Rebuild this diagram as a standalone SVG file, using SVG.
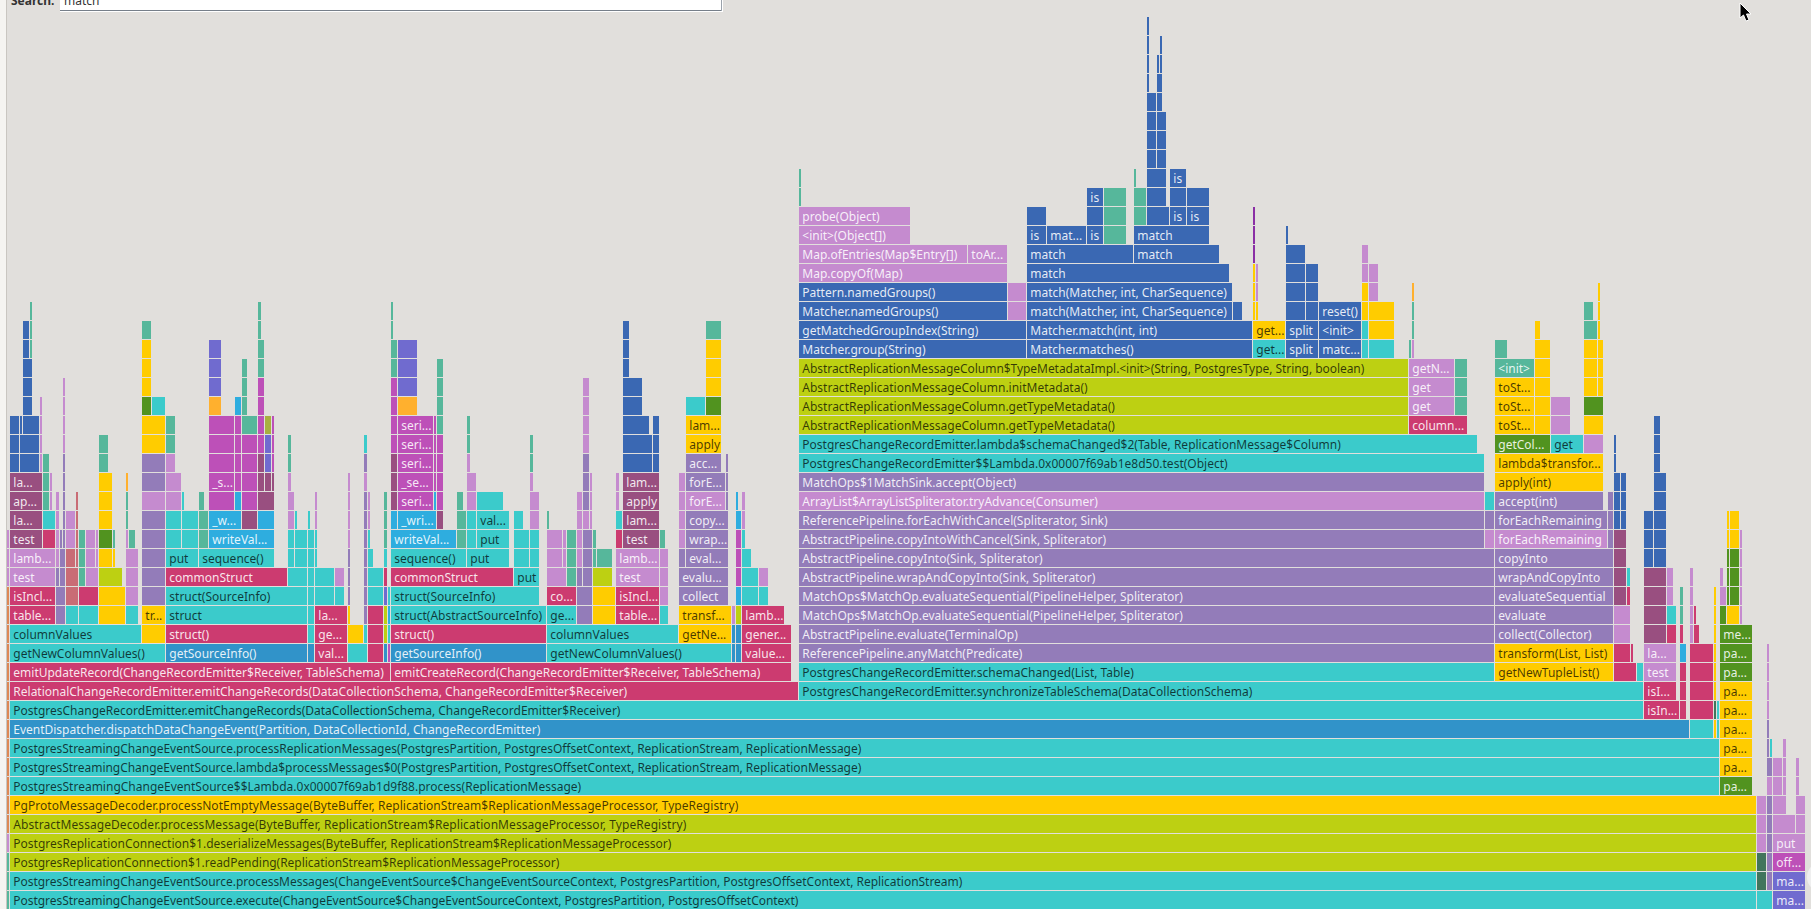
<svg xmlns="http://www.w3.org/2000/svg" width="1811" height="909" viewBox="0 0 1811 909">
<style>
.t{fill:#3bcbcb}.c{fill:#cc3b70}.b{fill:#3a68b3}.p{fill:#937cb9}.l{fill:#c58bcf}.y{fill:#ffcc00}.o{fill:#bdd012}.g{fill:#56b79b}.d{fill:#51931f}.v{fill:#bd50b8}.m{fill:#994f80}.s{fill:#2eaddf}.u{fill:#3193c9}.i{fill:#706bcf}.a{fill:#ffb02e}.r{fill:#c96c75}.q{fill:#8a2fa5}.w{fill:#a8b040}.k{fill:#41755c}.n{fill:#dd8855}
text{font-family:"Noto Sans","DejaVu Sans",sans-serif;font-size:12px}
.W{fill:#fff;fill-opacity:.88}.D{fill:#000;fill-opacity:.72}
</style>
<rect width="1811" height="909" fill="#e1dfdc"/>
<rect width="6" height="909" fill="#f5f4f1"/>
<rect x="6" width="1" height="909" fill="#c9c6c1"/>
<g id="search">
<rect x="60" y="-6" width="663" height="18" fill="#fff"/>
<rect x="60" y="10" width="662" height="1" fill="#767f8a"/>
<rect x="721" y="-6" width="1" height="17" fill="#9aa2ab"/>
<text x="11" y="5" font-weight="bold" fill="#333">Search:</text>
<text x="64" y="5" fill="#333">match</text>
</g>
<g id="r0" transform="translate(0,891)"><rect x="7" width="2" height="18" class="g"/><rect x="10" width="1746" height="18" class="t"/><text x="13.3" y="13.5" class="D" textLength="785">PostgresStreamingChangeEventSource.execute(ChangeEventSource$ChangeEventSourceContext, PostgresPartition, PostgresOffsetContext)</text><rect x="1757" width="15" height="18" class="t"/><rect x="1773" width="32" height="18" class="i"/><text x="1776.3" y="13.5" class="W">ma...</text></g>
<g id="r1" transform="translate(0,872)"><rect x="7" width="2" height="18" class="g"/><rect x="10" width="1746" height="18" class="t"/><text x="13.3" y="13.5" class="D" textLength="949">PostgresStreamingChangeEventSource.processMessages(ChangeEventSource$ChangeEventSourceContext, PostgresPartition, PostgresOffsetContext, ReplicationStream)</text><rect x="1757" width="9" height="18" class="k"/><rect x="1767" width="5" height="18" class="p"/><rect x="1773" width="32" height="18" class="i"/><text x="1776.3" y="13.5" class="W">ma...</text></g>
<g id="r2" transform="translate(0,853)"><rect x="7" width="2" height="18" class="g"/><rect x="10" width="1746" height="18" class="o"/><text x="13.3" y="13.5" class="D" textLength="546">PostgresReplicationConnection$1.readPending(ReplicationStream$ReplicationMessageProcessor)</text><rect x="1757" width="9" height="18" class="k"/><rect x="1767" width="5" height="18" class="p"/><rect x="1773" width="32" height="18" class="v"/><text x="1776.3" y="13.5" class="W">off...</text></g>
<g id="r3" transform="translate(0,834)"><rect x="7" width="2" height="18" class="l"/><rect x="10" width="1746" height="18" class="o"/><text x="13.3" y="13.5" class="D">PostgresReplicationConnection$1.deserializeMessages(ByteBuffer, ReplicationStream$ReplicationMessageProcessor)</text><rect x="1757" width="9" height="18" class="l"/><rect x="1767" width="5" height="18" class="p"/><rect x="1773" width="32" height="18" class="l"/><text x="1776.3" y="13.5" class="W">put</text></g>
<g id="r4" transform="translate(0,815)"><rect x="7" width="2" height="18" class="n"/><rect x="10" width="1746" height="18" class="o"/><text x="13.3" y="13.5" class="D" textLength="673">AbstractMessageDecoder.processMessage(ByteBuffer, ReplicationStream$ReplicationMessageProcessor, TypeRegistry)</text><rect x="1757" width="9" height="18" class="l"/><rect x="1767" width="5" height="18" class="p"/><rect x="1773" width="22" height="18" class="l"/><rect x="1796" width="9" height="18" class="l"/></g>
<g id="r5" transform="translate(0,796)"><rect x="7" width="2" height="18" class="n"/><rect x="10" width="1746" height="18" class="y"/><text x="13.3" y="13.5" class="D" textLength="725">PgProtoMessageDecoder.processNotEmptyMessage(ByteBuffer, ReplicationStream$ReplicationMessageProcessor, TypeRegistry)</text><rect x="1757" width="9" height="18" class="l"/><rect x="1767" width="5" height="18" class="p"/><rect x="1773" width="13" height="18" class="l"/><rect x="1796" width="9" height="18" class="l"/></g>
<g id="r6" transform="translate(0,777)"><rect x="7" width="2" height="18" class="n"/><rect x="10" width="1709" height="18" class="t"/><text x="13.3" y="13.5" class="D">PostgresStreamingChangeEventSource$$Lambda.0x00007f69ab1d9f88.process(ReplicationMessage)</text><rect x="1720" width="32" height="18" class="d"/><text x="1723.3" y="13.5" class="W">pa...</text><rect x="1767" width="5" height="18" class="l"/><rect x="1773" width="9" height="18" class="l"/><rect x="1783" width="3" height="18" class="l"/><rect x="1796" width="3" height="18" class="l"/></g>
<g id="r7" transform="translate(0,758)"><rect x="7" width="2" height="18" class="n"/><rect x="10" width="1709" height="18" class="t"/><text x="13.3" y="13.5" class="D" textLength="848">PostgresStreamingChangeEventSource.lambda$processMessages$0(PostgresPartition, PostgresOffsetContext, ReplicationStream, ReplicationMessage)</text><rect x="1720" width="32" height="18" class="y"/><text x="1723.3" y="13.5" class="D">pa...</text><rect x="1767" width="5" height="18" class="p"/><rect x="1773" width="9" height="18" class="l"/><rect x="1783" width="3" height="18" class="l"/><rect x="1796" width="3" height="18" class="l"/></g>
<g id="r8" transform="translate(0,739)"><rect x="7" width="2" height="18" class="n"/><rect x="10" width="1709" height="18" class="t"/><text x="13.3" y="13.5" class="D" textLength="848">PostgresStreamingChangeEventSource.processReplicationMessages(PostgresPartition, PostgresOffsetContext, ReplicationStream, ReplicationMessage)</text><rect x="1720" width="32" height="18" class="y"/><text x="1723.3" y="13.5" class="D">pa...</text><rect x="1767" width="2" height="18" class="p"/><rect x="1770" width="2" height="18" class="t"/><rect x="1783" width="3" height="18" class="l"/></g>
<g id="r9" transform="translate(0,720)"><rect x="7" width="2" height="18" class="n"/><rect x="10" width="1679" height="18" class="u"/><text x="13.3" y="13.5" class="W" textLength="527">EventDispatcher.dispatchDataChangeEvent(Partition, DataCollectionId, ChangeRecordEmitter)</text><rect x="1690" width="23" height="18" class="t"/><rect x="1714" width="2" height="18" class="y"/><rect x="1717" width="2" height="18" class="t"/><rect x="1720" width="32" height="18" class="y"/><text x="1723.3" y="13.5" class="D">pa...</text><rect x="1767" width="2" height="18" class="p"/></g>
<g id="r10" transform="translate(0,701)"><rect x="7" width="2" height="18" class="n"/><rect x="10" width="1633" height="18" class="t"/><text x="13.3" y="13.5" class="D">PostgresChangeRecordEmitter.emitChangeRecords(DataCollectionSchema, ChangeRecordEmitter$Receiver)</text><rect x="1644" width="35" height="18" class="c"/><text x="1647.3" y="13.5" class="W">isIn...</text><rect x="1680" width="6" height="18" class="c"/><rect x="1690" width="23" height="18" class="c"/><rect x="1714" width="2" height="18" class="k"/><rect x="1717" width="2" height="18" class="t"/><rect x="1720" width="32" height="18" class="y"/><text x="1723.3" y="13.5" class="D">pa...</text><rect x="1767" width="2" height="18" class="l"/></g>
<g id="r11" transform="translate(0,682)"><rect x="7" width="2" height="18" class="n"/><rect x="10" width="788" height="18" class="c"/><text x="13.3" y="13.5" class="W">RelationalChangeRecordEmitter.emitChangeRecords(DataCollectionSchema, ChangeRecordEmitter$Receiver)</text><rect x="799" width="844" height="18" class="t"/><text x="802.3" y="13.5" class="D">PostgresChangeRecordEmitter.synchronizeTableSchema(DataCollectionSchema)</text><rect x="1644" width="32" height="18" class="c"/><text x="1647.3" y="13.5" class="W">isI...</text><rect x="1680" width="6" height="18" class="c"/><rect x="1690" width="23" height="18" class="c"/><rect x="1714" width="2" height="18" class="y"/><rect x="1720" width="32" height="18" class="y"/><text x="1723.3" y="13.5" class="D">pa...</text><rect x="1767" width="2" height="18" class="l"/></g>
<g id="r12" transform="translate(0,663)"><rect x="7" width="2" height="18" class="n"/><rect x="10" width="380" height="18" class="c"/><text x="13.3" y="13.5" class="W">emitUpdateRecord(ChangeRecordEmitter$Receiver, TableSchema)</text><rect x="391" width="400" height="18" class="c"/><text x="394.3" y="13.5" class="W">emitCreateRecord(ChangeRecordEmitter$Receiver, TableSchema)</text><rect x="799" width="695" height="18" class="t"/><text x="802.3" y="13.5" class="D">PostgresChangeRecordEmitter.schemaChanged(List, Table)</text><rect x="1495" width="118" height="18" class="y"/><text x="1498.3" y="13.5" class="D">getNewTupleList()</text><rect x="1614" width="22" height="18" class="c"/><rect x="1637" width="6" height="18" class="t"/><rect x="1644" width="32" height="18" class="l"/><text x="1647.3" y="13.5" class="W">test</text><rect x="1680" width="6" height="18" class="c"/><rect x="1690" width="23" height="18" class="c"/><rect x="1714" width="2" height="18" class="y"/><rect x="1720" width="32" height="18" class="d"/><text x="1723.3" y="13.5" class="W">pa...</text><rect x="1767" width="2" height="18" class="l"/></g>
<g id="r13" transform="translate(0,644)"><rect x="7" width="2" height="18" class="n"/><rect x="10" width="155" height="18" class="t"/><text x="13.3" y="13.5" class="D">getNewColumnValues()</text><rect x="166" width="141" height="18" class="u"/><text x="169.3" y="13.5" class="W">getSourceInfo()</text><rect x="308" width="6" height="18" class="u"/><rect x="315" width="32" height="18" class="c"/><text x="318.3" y="13.5" class="W">val...</text><rect x="348" width="19" height="18" class="t"/><rect x="368" width="15" height="18" class="c"/><rect x="384" width="3" height="18" class="u"/><rect x="388" width="2" height="18" class="v"/><rect x="391" width="155" height="18" class="u"/><text x="394.3" y="13.5" class="W">getSourceInfo()</text><rect x="547" width="184" height="18" class="t"/><text x="550.3" y="13.5" class="D">getNewColumnValues()</text><rect x="732" width="3" height="18" class="u"/><rect x="736" width="5" height="18" class="u"/><rect x="742" width="49" height="18" class="c"/><text x="745.3" y="13.5" class="W">value...</text><rect x="799" width="695" height="18" class="p"/><text x="802.3" y="13.5" class="W">ReferencePipeline.anyMatch(Predicate)</text><rect x="1495" width="118" height="18" class="y"/><text x="1498.3" y="13.5" class="D">transform(List, List)</text><rect x="1614" width="16" height="18" class="c"/><rect x="1631" width="2" height="18" class="c"/><rect x="1644" width="32" height="18" class="l"/><text x="1647.3" y="13.5" class="W">la...</text><rect x="1680" width="6" height="18" class="s"/><rect x="1690" width="23" height="18" class="c"/><rect x="1714" width="2" height="18" class="y"/><rect x="1720" width="32" height="18" class="d"/><text x="1723.3" y="13.5" class="W">pa...</text><rect x="1767" width="2" height="18" class="l"/></g>
<g id="r14" transform="translate(0,625)"><rect x="7" width="2" height="18" class="n"/><rect x="10" width="131" height="18" class="t"/><text x="13.3" y="13.5" class="D">columnValues</text><rect x="142" width="23" height="18" class="y"/><rect x="166" width="141" height="18" class="c"/><text x="169.3" y="13.5" class="W">struct()</text><rect x="308" width="6" height="18" class="t"/><rect x="315" width="32" height="18" class="c"/><text x="318.3" y="13.5" class="W">ge...</text><rect x="348" width="15" height="18" class="y"/><rect x="364" width="3" height="18" class="t"/><rect x="368" width="15" height="18" class="c"/><rect x="384" width="3" height="18" class="o"/><rect x="388" width="2" height="18" class="t"/><rect x="391" width="155" height="18" class="c"/><text x="394.3" y="13.5" class="W">struct()</text><rect x="547" width="131" height="18" class="t"/><text x="550.3" y="13.5" class="D">columnValues</text><rect x="679" width="52" height="18" class="y"/><text x="682.3" y="13.5" class="D">getNe...</text><rect x="732" width="3" height="18" class="u"/><rect x="736" width="5" height="18" class="u"/><rect x="742" width="49" height="18" class="c"/><text x="745.3" y="13.5" class="W">gener...</text><rect x="799" width="695" height="18" class="p"/><text x="802.3" y="13.5" class="W">AbstractPipeline.evaluate(TerminalOp)</text><rect x="1495" width="118" height="18" class="p"/><text x="1498.3" y="13.5" class="W">collect(Collector)</text><rect x="1614" width="16" height="18" class="l"/><rect x="1644" width="22" height="18" class="m"/><rect x="1667" width="9" height="18" class="c"/><rect x="1680" width="3" height="18" class="c"/><rect x="1690" width="3" height="18" class="l"/><rect x="1694" width="5" height="18" class="c"/><rect x="1714" width="2" height="18" class="y"/><rect x="1720" width="32" height="18" class="d"/><text x="1723.3" y="13.5" class="W">me...</text></g>
<g id="r15" transform="translate(0,606)"><rect x="7" width="2" height="18" class="n"/><rect x="10" width="45" height="18" class="c"/><text x="13.3" y="13.5" class="W">table...</text><rect x="56" width="9" height="18" class="p"/><rect x="66" width="12" height="18" class="t"/><rect x="79" width="19" height="18" class="t"/><rect x="99" width="26" height="18" class="y"/><rect x="126" width="12" height="18" class="t"/><rect x="142" width="23" height="18" class="y"/><text x="145.3" y="13.5" class="D">tr...</text><rect x="166" width="141" height="18" class="t"/><text x="169.3" y="13.5" class="D">struct</text><rect x="308" width="6" height="18" class="t"/><rect x="315" width="32" height="18" class="c"/><text x="318.3" y="13.5" class="W">la...</text><rect x="348" width="2" height="18" class="y"/><rect x="364" width="3" height="18" class="p"/><rect x="368" width="15" height="18" class="c"/><rect x="384" width="3" height="18" class="o"/><rect x="388" width="2" height="18" class="s"/><rect x="391" width="155" height="18" class="t"/><text x="394.3" y="13.5" class="D">struct(AbstractSourceInfo)</text><rect x="547" width="29" height="18" class="t"/><text x="550.3" y="13.5" class="D">ge...</text><rect x="577" width="15" height="18" class="p"/><rect x="593" width="22" height="18" class="y"/><rect x="616" width="43" height="18" class="c"/><text x="619.3" y="13.5" class="W">table...</text><rect x="660" width="8" height="18" class="t"/><rect x="679" width="52" height="18" class="y"/><text x="682.3" y="13.5" class="D">transf...</text><rect x="732" width="3" height="18" class="l"/><rect x="736" width="5" height="18" class="o"/><rect x="742" width="42" height="18" class="c"/><text x="745.3" y="13.5" class="W">lamb...</text><rect x="799" width="695" height="18" class="p"/><text x="802.3" y="13.5" class="W">MatchOps$MatchOp.evaluateSequential(PipelineHelper, Spliterator)</text><rect x="1495" width="118" height="18" class="p"/><text x="1498.3" y="13.5" class="W">evaluate</text><rect x="1614" width="16" height="18" class="l"/><rect x="1644" width="22" height="18" class="m"/><rect x="1667" width="9" height="18" class="t"/><rect x="1680" width="3" height="18" class="g"/><rect x="1690" width="3" height="18" class="l"/><rect x="1694" width="2" height="18" class="c"/><rect x="1714" width="2" height="18" class="y"/><rect x="1720" width="6" height="18" class="d"/><rect x="1727" width="12" height="18" class="y"/><rect x="1740" width="2" height="18" class="l"/></g>
<g id="r16" transform="translate(0,587)"><rect x="7" width="2" height="18" class="n"/><rect x="10" width="45" height="18" class="c"/><text x="13.3" y="13.5" class="W">isIncl...</text><rect x="56" width="9" height="18" class="p"/><rect x="66" width="12" height="18" class="r"/><rect x="79" width="19" height="18" class="c"/><rect x="99" width="26" height="18" class="y"/><rect x="126" width="12" height="18" class="l"/><rect x="142" width="23" height="18" class="p"/><rect x="166" width="141" height="18" class="t"/><text x="169.3" y="13.5" class="D">struct(SourceInfo)</text><rect x="308" width="6" height="18" class="t"/><rect x="315" width="19" height="18" class="t"/><rect x="335" width="9" height="18" class="t"/><rect x="348" width="2" height="18" class="p"/><rect x="364" width="3" height="18" class="p"/><rect x="368" width="15" height="18" class="t"/><rect x="384" width="3" height="18" class="i"/><rect x="388" width="2" height="18" class="t"/><rect x="391" width="148" height="18" class="t"/><text x="394.3" y="13.5" class="D">struct(SourceInfo)</text><rect x="547" width="29" height="18" class="c"/><text x="550.3" y="13.5" class="W">co...</text><rect x="577" width="15" height="18" class="p"/><rect x="593" width="22" height="18" class="y"/><rect x="616" width="43" height="18" class="c"/><text x="619.3" y="13.5" class="W">isIncl...</text><rect x="660" width="8" height="18" class="l"/><rect x="679" width="49" height="18" class="p"/><text x="682.3" y="13.5" class="W">collect</text><rect x="736" width="5" height="18" class="s"/><rect x="742" width="16" height="18" class="t"/><rect x="759" width="9" height="18" class="t"/><rect x="799" width="695" height="18" class="p"/><text x="802.3" y="13.5" class="W">MatchOps$MatchOp.evaluateSequential(PipelineHelper, Spliterator)</text><rect x="1495" width="118" height="18" class="p"/><text x="1498.3" y="13.5" class="W">evaluateSequential</text><rect x="1614" width="12" height="18" class="m"/><rect x="1627" width="3" height="18" class="c"/><rect x="1644" width="22" height="18" class="m"/><rect x="1667" width="6" height="18" class="l"/><rect x="1680" width="3" height="18" class="g"/><rect x="1690" width="3" height="18" class="l"/><rect x="1714" width="2" height="18" class="y"/><rect x="1720" width="6" height="18" class="l"/><rect x="1727" width="2" height="18" class="d"/><rect x="1730" width="9" height="18" class="d"/><rect x="1740" width="2" height="18" class="l"/></g>
<g id="r17" transform="translate(0,568)"><rect x="7" width="2" height="18" class="l"/><rect x="10" width="45" height="18" class="l"/><text x="13.3" y="13.5" class="W">test</text><rect x="56" width="3" height="18" class="p"/><rect x="60" width="5" height="18" class="p"/><rect x="66" width="12" height="18" class="r"/><rect x="79" width="6" height="18" class="g"/><rect x="86" width="12" height="18" class="l"/><rect x="99" width="23" height="18" class="o"/><rect x="126" width="12" height="18" class="l"/><rect x="142" width="23" height="18" class="p"/><rect x="166" width="121" height="18" class="c"/><text x="169.3" y="13.5" class="W">commonStruct</text><rect x="288" width="19" height="18" class="t"/><rect x="308" width="6" height="18" class="t"/><rect x="315" width="19" height="18" class="t"/><rect x="335" width="9" height="18" class="l"/><rect x="348" width="2" height="18" class="p"/><rect x="364" width="3" height="18" class="p"/><rect x="368" width="15" height="18" class="t"/><rect x="384" width="3" height="18" class="c"/><rect x="391" width="122" height="18" class="c"/><text x="394.3" y="13.5" class="W">commonStruct</text><rect x="514" width="25" height="18" class="t"/><text x="517.3" y="13.5" class="D">put</text><rect x="547" width="19" height="18" class="l"/><rect x="567" width="9" height="18" class="g"/><rect x="577" width="5" height="18" class="p"/><rect x="583" width="9" height="18" class="p"/><rect x="593" width="19" height="18" class="o"/><rect x="616" width="43" height="18" class="l"/><text x="619.3" y="13.5" class="W">test</text><rect x="660" width="8" height="18" class="l"/><rect x="679" width="49" height="18" class="p"/><text x="682.3" y="13.5" class="W">evalu...</text><rect x="736" width="5" height="18" class="v"/><rect x="742" width="16" height="18" class="t"/><rect x="759" width="9" height="18" class="l"/><rect x="799" width="695" height="18" class="p"/><text x="802.3" y="13.5" class="W">AbstractPipeline.wrapAndCopyInto(Sink, Spliterator)</text><rect x="1495" width="118" height="18" class="p"/><text x="1498.3" y="13.5" class="W">wrapAndCopyInto</text><rect x="1614" width="12" height="18" class="m"/><rect x="1627" width="3" height="18" class="t"/><rect x="1644" width="22" height="18" class="m"/><rect x="1667" width="6" height="18" class="l"/><rect x="1690" width="3" height="18" class="l"/><rect x="1720" width="3" height="18" class="l"/><rect x="1727" width="2" height="18" class="d"/><rect x="1730" width="9" height="18" class="d"/><rect x="1740" width="2" height="18" class="l"/></g>
<g id="r18" transform="translate(0,549)"><rect x="7" width="2" height="18" class="l"/><rect x="10" width="45" height="18" class="l"/><text x="13.3" y="13.5" class="W">lamb...</text><rect x="56" width="3" height="18" class="l"/><rect x="60" width="5" height="18" class="p"/><rect x="66" width="9" height="18" class="r"/><rect x="76" width="2" height="18" class="r"/><rect x="79" width="6" height="18" class="g"/><rect x="86" width="9" height="18" class="l"/><rect x="96" width="2" height="18" class="l"/><rect x="99" width="13" height="18" class="y"/><rect x="113" width="2" height="18" class="y"/><rect x="126" width="12" height="18" class="l"/><rect x="142" width="23" height="18" class="p"/><rect x="166" width="32" height="18" class="t"/><text x="169.3" y="13.5" class="D">put</text><rect x="199" width="75" height="18" class="t"/><text x="202.3" y="13.5" class="D">sequence()</text><rect x="288" width="6" height="18" class="t"/><rect x="295" width="12" height="18" class="t"/><rect x="308" width="6" height="18" class="t"/><rect x="315" width="2" height="18" class="t"/><rect x="348" width="2" height="18" class="p"/><rect x="364" width="3" height="18" class="p"/><rect x="368" width="5" height="18" class="t"/><rect x="384" width="3" height="18" class="t"/><rect x="391" width="75" height="18" class="t"/><text x="394.3" y="13.5" class="D">sequence()</text><rect x="467" width="42" height="18" class="t"/><text x="470.3" y="13.5" class="D">put</text><rect x="514" width="15" height="18" class="t"/><rect x="530" width="9" height="18" class="t"/><rect x="547" width="15" height="18" class="l"/><rect x="563" width="3" height="18" class="l"/><rect x="567" width="9" height="18" class="g"/><rect x="577" width="5" height="18" class="l"/><rect x="583" width="9" height="18" class="p"/><rect x="593" width="3" height="18" class="g"/><rect x="597" width="15" height="18" class="g"/><rect x="616" width="43" height="18" class="l"/><text x="619.3" y="13.5" class="W">lamb...</text><rect x="660" width="8" height="18" class="l"/><rect x="679" width="6" height="18" class="p"/><rect x="686" width="42" height="18" class="p"/><text x="689.3" y="13.5" class="W">eval...</text><rect x="736" width="5" height="18" class="v"/><rect x="742" width="9" height="18" class="t"/><rect x="799" width="695" height="18" class="p"/><text x="802.3" y="13.5" class="W">AbstractPipeline.copyInto(Sink, Spliterator)</text><rect x="1495" width="118" height="18" class="p"/><text x="1498.3" y="13.5" class="W">copyInto</text><rect x="1614" width="12" height="18" class="m"/><rect x="1644" width="9" height="18" class="b"/><rect x="1654" width="12" height="18" class="b"/><rect x="1727" width="2" height="18" class="d"/><rect x="1730" width="9" height="18" class="d"/><rect x="1740" width="2" height="18" class="l"/></g>
<g id="r19" transform="translate(0,530)"><rect x="7" width="2" height="18" class="l"/><rect x="10" width="32" height="18" class="m"/><text x="13.3" y="13.5" class="W">test</text><rect x="43" width="12" height="18" class="c"/><rect x="56" width="3" height="18" class="l"/><rect x="60" width="2" height="18" class="p"/><rect x="63" width="2" height="18" class="p"/><rect x="66" width="9" height="18" class="l"/><rect x="76" width="2" height="18" class="r"/><rect x="79" width="6" height="18" class="g"/><rect x="86" width="9" height="18" class="l"/><rect x="96" width="2" height="18" class="l"/><rect x="99" width="13" height="18" class="d"/><rect x="113" width="2" height="18" class="g"/><rect x="126" width="2" height="18" class="l"/><rect x="129" width="6" height="18" class="g"/><rect x="142" width="23" height="18" class="p"/><rect x="166" width="15" height="18" class="t"/><rect x="182" width="16" height="18" class="t"/><rect x="199" width="9" height="18" class="g"/><rect x="209" width="65" height="18" class="s"/><text x="212.3" y="13.5" class="W">writeVal...</text><rect x="288" width="6" height="18" class="t"/><rect x="295" width="12" height="18" class="t"/><rect x="308" width="6" height="18" class="t"/><rect x="315" width="2" height="18" class="t"/><rect x="348" width="2" height="18" class="l"/><rect x="364" width="3" height="18" class="p"/><rect x="368" width="2" height="18" class="t"/><rect x="384" width="3" height="18" class="g"/><rect x="391" width="65" height="18" class="s"/><text x="394.3" y="13.5" class="W">writeVal...</text><rect x="457" width="9" height="18" class="g"/><rect x="467" width="9" height="18" class="t"/><rect x="477" width="32" height="18" class="t"/><text x="480.3" y="13.5" class="D">put</text><rect x="514" width="15" height="18" class="t"/><rect x="530" width="9" height="18" class="t"/><rect x="547" width="15" height="18" class="l"/><rect x="563" width="3" height="18" class="l"/><rect x="567" width="9" height="18" class="g"/><rect x="577" width="5" height="18" class="l"/><rect x="583" width="9" height="18" class="p"/><rect x="593" width="3" height="18" class="g"/><rect x="616" width="6" height="18" class="c"/><rect x="623" width="36" height="18" class="m"/><text x="626.3" y="13.5" class="W">test</text><rect x="660" width="5" height="18" class="g"/><rect x="679" width="6" height="18" class="l"/><rect x="686" width="42" height="18" class="p"/><text x="689.3" y="13.5" class="W">wrap...</text><rect x="736" width="5" height="18" class="v"/><rect x="742" width="3" height="18" class="t"/><rect x="799" width="685" height="18" class="p"/><text x="802.3" y="13.5" class="W">AbstractPipeline.copyIntoWithCancel(Sink, Spliterator)</text><rect x="1485" width="9" height="18" class="l"/><rect x="1495" width="112" height="18" class="l"/><text x="1498.3" y="13.5" class="W">forEachRemaining</text><rect x="1608" width="5" height="18" class="p"/><rect x="1614" width="12" height="18" class="m"/><rect x="1644" width="9" height="18" class="b"/><rect x="1654" width="12" height="18" class="b"/><rect x="1727" width="2" height="18" class="y"/><rect x="1730" width="9" height="18" class="y"/><rect x="1740" width="2" height="18" class="l"/></g>
<g id="r20" transform="translate(0,511)"><rect x="10" width="32" height="18" class="m"/><text x="13.3" y="13.5" class="W">la...</text><rect x="43" width="12" height="18" class="t"/><rect x="56" width="3" height="18" class="l"/><rect x="63" width="2" height="18" class="p"/><rect x="66" width="9" height="18" class="l"/><rect x="76" width="2" height="18" class="r"/><rect x="99" width="13" height="18" class="y"/><rect x="126" width="2" height="18" class="g"/><rect x="142" width="23" height="18" class="p"/><rect x="166" width="15" height="18" class="t"/><rect x="182" width="16" height="18" class="t"/><rect x="199" width="9" height="18" class="g"/><rect x="209" width="32" height="18" class="s"/><text x="212.3" y="13.5" class="W">_w...</text><rect x="242" width="15" height="18" class="m"/><rect x="258" width="16" height="18" class="s"/><rect x="288" width="6" height="18" class="l"/><rect x="295" width="2" height="18" class="t"/><rect x="308" width="2" height="18" class="t"/><rect x="315" width="2" height="18" class="l"/><rect x="348" width="2" height="18" class="l"/><rect x="364" width="3" height="18" class="p"/><rect x="368" width="2" height="18" class="l"/><rect x="384" width="3" height="18" class="g"/><rect x="391" width="6" height="18" class="s"/><rect x="398" width="38" height="18" class="s"/><text x="401.3" y="13.5" class="W">_wri...</text><rect x="437" width="6" height="18" class="m"/><rect x="457" width="9" height="18" class="g"/><rect x="467" width="9" height="18" class="t"/><rect x="477" width="32" height="18" class="t"/><text x="480.3" y="13.5" class="D">val...</text><rect x="514" width="9" height="18" class="t"/><rect x="530" width="9" height="18" class="l"/><rect x="547" width="2" height="18" class="g"/><rect x="577" width="5" height="18" class="l"/><rect x="583" width="6" height="18" class="l"/><rect x="590" width="2" height="18" class="l"/><rect x="616" width="6" height="18" class="t"/><rect x="623" width="36" height="18" class="m"/><text x="626.3" y="13.5" class="W">lam...</text><rect x="679" width="6" height="18" class="l"/><rect x="686" width="42" height="18" class="p"/><text x="689.3" y="13.5" class="W">copy...</text><rect x="736" width="5" height="18" class="s"/><rect x="742" width="3" height="18" class="l"/><rect x="799" width="685" height="18" class="p"/><text x="802.3" y="13.5" class="W">ReferencePipeline.forEachWithCancel(Spliterator, Sink)</text><rect x="1485" width="9" height="18" class="p"/><rect x="1495" width="112" height="18" class="p"/><text x="1498.3" y="13.5" class="W">forEachRemaining</text><rect x="1608" width="5" height="18" class="p"/><rect x="1614" width="6" height="18" class="b"/><rect x="1621" width="5" height="18" class="b"/><rect x="1644" width="9" height="18" class="b"/><rect x="1654" width="12" height="18" class="b"/><rect x="1727" width="2" height="18" class="y"/><rect x="1730" width="9" height="18" class="y"/></g>
<g id="r21" transform="translate(0,492)"><rect x="10" width="32" height="18" class="m"/><text x="13.3" y="13.5" class="W">ap...</text><rect x="43" width="6" height="18" class="g"/><rect x="50" width="2" height="18" class="l"/><rect x="56" width="3" height="18" class="l"/><rect x="63" width="2" height="18" class="p"/><rect x="76" width="2" height="18" class="r"/><rect x="99" width="13" height="18" class="y"/><rect x="126" width="2" height="18" class="g"/><rect x="142" width="23" height="18" class="l"/><rect x="166" width="15" height="18" class="l"/><rect x="182" width="2" height="18" class="t"/><rect x="199" width="5" height="18" class="g"/><rect x="209" width="25" height="18" class="v"/><rect x="235" width="6" height="18" class="s"/><rect x="242" width="15" height="18" class="v"/><rect x="258" width="16" height="18" class="m"/><rect x="288" width="6" height="18" class="l"/><rect x="315" width="2" height="18" class="l"/><rect x="348" width="2" height="18" class="l"/><rect x="364" width="3" height="18" class="p"/><rect x="368" width="2" height="18" class="l"/><rect x="384" width="3" height="18" class="g"/><rect x="391" width="6" height="18" class="m"/><rect x="398" width="35" height="18" class="v"/><text x="401.3" y="13.5" class="W">seri...</text><rect x="434" width="2" height="18" class="s"/><rect x="437" width="6" height="18" class="v"/><rect x="457" width="6" height="18" class="g"/><rect x="467" width="9" height="18" class="l"/><rect x="477" width="26" height="18" class="t"/><rect x="530" width="9" height="18" class="l"/><rect x="577" width="5" height="18" class="l"/><rect x="583" width="6" height="18" class="p"/><rect x="590" width="2" height="18" class="l"/><rect x="616" width="3" height="18" class="l"/><rect x="623" width="36" height="18" class="m"/><text x="626.3" y="13.5" class="W">apply</text><rect x="679" width="6" height="18" class="l"/><rect x="686" width="39" height="18" class="l"/><text x="689.3" y="13.5" class="W">forE...</text><rect x="726" width="2" height="18" class="p"/><rect x="736" width="2" height="18" class="s"/><rect x="742" width="3" height="18" class="l"/><rect x="799" width="685" height="18" class="l"/><text x="802.3" y="13.5" class="W">ArrayList$ArrayListSpliterator.tryAdvance(Consumer)</text><rect x="1485" width="9" height="18" class="t"/><rect x="1495" width="108" height="18" class="p"/><text x="1498.3" y="13.5" class="W">accept(int)</text><rect x="1608" width="5" height="18" class="p"/><rect x="1614" width="6" height="18" class="b"/><rect x="1621" width="5" height="18" class="b"/><rect x="1654" width="12" height="18" class="b"/></g>
<g id="r22" transform="translate(0,473)"><rect x="10" width="32" height="18" class="m"/><text x="13.3" y="13.5" class="W">la...</text><rect x="43" width="6" height="18" class="g"/><rect x="50" width="2" height="18" class="l"/><rect x="63" width="2" height="18" class="p"/><rect x="99" width="13" height="18" class="y"/><rect x="126" width="2" height="18" class="a"/><rect x="142" width="23" height="18" class="p"/><rect x="166" width="15" height="18" class="l"/><rect x="209" width="25" height="18" class="v"/><text x="212.3" y="13.5" class="W">_s...</text><rect x="235" width="6" height="18" class="v"/><rect x="242" width="15" height="18" class="v"/><rect x="258" width="6" height="18" class="m"/><rect x="265" width="6" height="18" class="m"/><rect x="272" width="2" height="18" class="m"/><rect x="288" width="3" height="18" class="l"/><rect x="348" width="2" height="18" class="l"/><rect x="364" width="3" height="18" class="l"/><rect x="391" width="6" height="18" class="m"/><rect x="398" width="35" height="18" class="v"/><text x="401.3" y="13.5" class="W">_se...</text><rect x="434" width="2" height="18" class="v"/><rect x="437" width="6" height="18" class="v"/><rect x="467" width="9" height="18" class="l"/><rect x="530" width="3" height="18" class="l"/><rect x="583" width="6" height="18" class="p"/><rect x="590" width="2" height="18" class="l"/><rect x="616" width="3" height="18" class="l"/><rect x="623" width="36" height="18" class="m"/><text x="626.3" y="13.5" class="W">lam...</text><rect x="679" width="6" height="18" class="l"/><rect x="686" width="39" height="18" class="p"/><text x="689.3" y="13.5" class="W">forE...</text><rect x="726" width="2" height="18" class="p"/><rect x="799" width="685" height="18" class="p"/><text x="802.3" y="13.5" class="W">MatchOps$1MatchSink.accept(Object)</text><rect x="1495" width="108" height="18" class="y"/><text x="1498.3" y="13.5" class="D">apply(int)</text><rect x="1614" width="6" height="18" class="b"/><rect x="1621" width="5" height="18" class="b"/><rect x="1654" width="12" height="18" class="b"/></g>
<g id="r23" transform="translate(0,454)"><rect x="10" width="9" height="18" class="b"/><rect x="20" width="19" height="18" class="b"/><rect x="40" width="2" height="18" class="l"/><rect x="43" width="6" height="18" class="g"/><rect x="63" width="2" height="18" class="p"/><rect x="99" width="9" height="18" class="g"/><rect x="142" width="23" height="18" class="p"/><rect x="166" width="9" height="18" class="l"/><rect x="209" width="25" height="18" class="v"/><rect x="235" width="6" height="18" class="v"/><rect x="242" width="15" height="18" class="v"/><rect x="258" width="6" height="18" class="m"/><rect x="265" width="6" height="18" class="i"/><rect x="272" width="2" height="18" class="v"/><rect x="288" width="3" height="18" class="g"/><rect x="364" width="3" height="18" class="p"/><rect x="391" width="6" height="18" class="m"/><rect x="398" width="35" height="18" class="v"/><text x="401.3" y="13.5" class="W">seri...</text><rect x="434" width="2" height="18" class="v"/><rect x="437" width="6" height="18" class="v"/><rect x="467" width="3" height="18" class="l"/><rect x="530" width="3" height="18" class="g"/><rect x="583" width="6" height="18" class="p"/><rect x="623" width="29" height="18" class="b"/><rect x="653" width="6" height="18" class="b"/><rect x="686" width="35" height="18" class="p"/><text x="689.3" y="13.5" class="W">acc...</text><rect x="726" width="2" height="18" class="p"/><rect x="799" width="685" height="18" class="t"/><text x="802.3" y="13.5" class="D">PostgresChangeRecordEmitter$$Lambda.0x00007f69ab1e8d50.test(Object)</text><rect x="1495" width="108" height="18" class="y"/><text x="1498.3" y="13.5" class="D">lambda$transfor...</text><rect x="1614" width="2" height="18" class="b"/><rect x="1654" width="6" height="18" class="b"/></g>
<g id="r24" transform="translate(0,435)"><rect x="10" width="9" height="18" class="b"/><rect x="20" width="19" height="18" class="b"/><rect x="40" width="2" height="18" class="l"/><rect x="63" width="2" height="18" class="l"/><rect x="99" width="9" height="18" class="g"/><rect x="142" width="23" height="18" class="y"/><rect x="166" width="9" height="18" class="g"/><rect x="209" width="25" height="18" class="v"/><rect x="235" width="6" height="18" class="v"/><rect x="242" width="15" height="18" class="v"/><rect x="258" width="6" height="18" class="v"/><rect x="265" width="6" height="18" class="i"/><rect x="272" width="2" height="18" class="v"/><rect x="288" width="3" height="18" class="g"/><rect x="364" width="3" height="18" class="t"/><rect x="391" width="6" height="18" class="v"/><rect x="398" width="35" height="18" class="v"/><text x="401.3" y="13.5" class="W">seri...</text><rect x="434" width="2" height="18" class="v"/><rect x="437" width="6" height="18" class="v"/><rect x="467" width="3" height="18" class="g"/><rect x="530" width="3" height="18" class="g"/><rect x="583" width="6" height="18" class="l"/><rect x="623" width="29" height="18" class="b"/><rect x="653" width="6" height="18" class="b"/><rect x="686" width="35" height="18" class="y"/><text x="689.3" y="13.5" class="D">apply</text><rect x="799" width="678" height="18" class="t"/><text x="802.3" y="13.5" class="D">PostgresChangeRecordEmitter.lambda$schemaChanged$2(Table, ReplicationMessage$Column)</text><rect x="1495" width="55" height="18" class="d"/><text x="1498.3" y="13.5" class="W">getCol...</text><rect x="1551" width="32" height="18" class="t"/><text x="1554.3" y="13.5" class="D">get</text><rect x="1584" width="19" height="18" class="l"/><rect x="1614" width="2" height="18" class="b"/><rect x="1654" width="6" height="18" class="b"/></g>
<g id="r25" transform="translate(0,416)"><rect x="10" width="9" height="18" class="b"/><rect x="20" width="2" height="18" class="b"/><rect x="23" width="16" height="18" class="b"/><rect x="40" width="2" height="18" class="l"/><rect x="63" width="2" height="18" class="l"/><rect x="142" width="23" height="18" class="y"/><rect x="166" width="9" height="18" class="g"/><rect x="209" width="25" height="18" class="v"/><rect x="235" width="6" height="18" class="v"/><rect x="242" width="15" height="18" class="g"/><rect x="258" width="6" height="18" class="v"/><rect x="265" width="6" height="18" class="w"/><rect x="272" width="2" height="18" class="v"/><rect x="391" width="6" height="18" class="v"/><rect x="398" width="35" height="18" class="v"/><text x="401.3" y="13.5" class="W">seri...</text><rect x="434" width="2" height="18" class="v"/><rect x="437" width="6" height="18" class="g"/><rect x="467" width="3" height="18" class="g"/><rect x="583" width="6" height="18" class="l"/><rect x="623" width="26" height="18" class="b"/><rect x="653" width="6" height="18" class="b"/><rect x="686" width="35" height="18" class="y"/><text x="689.3" y="13.5" class="D">lam...</text><rect x="799" width="609" height="18" class="o"/><text x="802.3" y="13.5" class="D">AbstractReplicationMessageColumn.getTypeMetadata()</text><rect x="1409" width="58" height="18" class="c"/><text x="1412.3" y="13.5" class="W">column...</text><rect x="1495" width="39" height="18" class="y"/><text x="1498.3" y="13.5" class="D">toSt...</text><rect x="1535" width="15" height="18" class="y"/><rect x="1551" width="19" height="18" class="l"/><rect x="1584" width="19" height="18" class="y"/><rect x="1654" width="6" height="18" class="b"/></g>
<g id="r26" transform="translate(0,397)"><rect x="23" width="9" height="18" class="b"/><rect x="40" width="2" height="18" class="l"/><rect x="63" width="2" height="18" class="l"/><rect x="142" width="9" height="18" class="d"/><rect x="152" width="13" height="18" class="t"/><rect x="209" width="12" height="18" class="a"/><rect x="235" width="6" height="18" class="s"/><rect x="242" width="5" height="18" class="g"/><rect x="258" width="6" height="18" class="v"/><rect x="391" width="6" height="18" class="v"/><rect x="398" width="19" height="18" class="a"/><rect x="437" width="6" height="18" class="g"/><rect x="583" width="6" height="18" class="l"/><rect x="623" width="19" height="18" class="b"/><rect x="686" width="19" height="18" class="t"/><rect x="706" width="15" height="18" class="d"/><rect x="799" width="609" height="18" class="o"/><text x="802.3" y="13.5" class="D">AbstractReplicationMessageColumn.getTypeMetadata()</text><rect x="1409" width="45" height="18" class="l"/><text x="1412.3" y="13.5" class="W">get</text><rect x="1455" width="12" height="18" class="g"/><rect x="1495" width="39" height="18" class="y"/><text x="1498.3" y="13.5" class="D">toSt...</text><rect x="1535" width="15" height="18" class="y"/><rect x="1551" width="19" height="18" class="l"/><rect x="1584" width="19" height="18" class="d"/></g>
<g id="r27" transform="translate(0,378)"><rect x="23" width="9" height="18" class="b"/><rect x="63" width="2" height="18" class="l"/><rect x="142" width="9" height="18" class="y"/><rect x="209" width="12" height="18" class="i"/><rect x="242" width="5" height="18" class="g"/><rect x="258" width="6" height="18" class="v"/><rect x="391" width="6" height="18" class="v"/><rect x="398" width="19" height="18" class="i"/><rect x="437" width="6" height="18" class="g"/><rect x="583" width="6" height="18" class="l"/><rect x="623" width="19" height="18" class="b"/><rect x="706" width="15" height="18" class="y"/><rect x="799" width="609" height="18" class="o"/><text x="802.3" y="13.5" class="D">AbstractReplicationMessageColumn.initMetadata()</text><rect x="1409" width="45" height="18" class="l"/><text x="1412.3" y="13.5" class="W">get</text><rect x="1455" width="12" height="18" class="g"/><rect x="1495" width="39" height="18" class="y"/><text x="1498.3" y="13.5" class="D">toSt...</text><rect x="1535" width="15" height="18" class="y"/><rect x="1584" width="13" height="18" class="y"/><rect x="1598" width="5" height="18" class="y"/></g>
<g id="r28" transform="translate(0,359)"><rect x="23" width="9" height="18" class="b"/><rect x="142" width="9" height="18" class="y"/><rect x="209" width="12" height="18" class="i"/><rect x="242" width="5" height="18" class="g"/><rect x="258" width="6" height="18" class="g"/><rect x="391" width="6" height="18" class="g"/><rect x="398" width="19" height="18" class="i"/><rect x="437" width="6" height="18" class="g"/><rect x="623" width="6" height="18" class="b"/><rect x="706" width="15" height="18" class="y"/><rect x="799" width="609" height="18" class="o"/><text x="802.3" y="13.5" class="D" textLength="562">AbstractReplicationMessageColumn$TypeMetadataImpl.&lt;init&gt;(String, PostgresType, String, boolean)</text><rect x="1409" width="45" height="18" class="l"/><text x="1412.3" y="13.5" class="W">getN...</text><rect x="1455" width="12" height="18" class="g"/><rect x="1495" width="39" height="18" class="g"/><text x="1498.3" y="13.5" class="W">&lt;init&gt;</text><rect x="1535" width="15" height="18" class="y"/><rect x="1584" width="13" height="18" class="y"/><rect x="1598" width="5" height="18" class="y"/></g>
<g id="r29" transform="translate(0,340)"><rect x="23" width="6" height="18" class="b"/><rect x="30" width="2" height="18" class="g"/><rect x="142" width="9" height="18" class="y"/><rect x="209" width="12" height="18" class="i"/><rect x="258" width="6" height="18" class="g"/><rect x="391" width="6" height="18" class="g"/><rect x="398" width="19" height="18" class="i"/><rect x="623" width="6" height="18" class="b"/><rect x="706" width="15" height="18" class="y"/><rect x="799" width="227" height="18" class="b"/><text x="802.3" y="13.5" class="W">Matcher.group(String)</text><rect x="1027" width="225" height="18" class="b"/><text x="1030.3" y="13.5" class="W">Matcher.matches()</text><rect x="1253" width="32" height="18" class="t"/><text x="1256.3" y="13.5" class="D">get...</text><rect x="1286" width="32" height="18" class="b"/><text x="1289.3" y="13.5" class="W">split</text><rect x="1319" width="42" height="18" class="b"/><text x="1322.3" y="13.5" class="W">matc...</text><rect x="1362" width="6" height="18" class="t"/><rect x="1369" width="25" height="18" class="t"/><rect x="1409" width="2" height="18" class="g"/><rect x="1412" width="2" height="18" class="l"/><rect x="1495" width="12" height="18" class="g"/><rect x="1535" width="15" height="18" class="y"/><rect x="1584" width="13" height="18" class="y"/><rect x="1598" width="5" height="18" class="y"/></g>
<g id="r30" transform="translate(0,321)"><rect x="23" width="6" height="18" class="b"/><rect x="30" width="2" height="18" class="g"/><rect x="142" width="9" height="18" class="g"/><rect x="258" width="3" height="18" class="g"/><rect x="391" width="2" height="18" class="g"/><rect x="623" width="6" height="18" class="b"/><rect x="706" width="15" height="18" class="g"/><rect x="799" width="227" height="18" class="b"/><text x="802.3" y="13.5" class="W">getMatchedGroupIndex(String)</text><rect x="1027" width="225" height="18" class="b"/><text x="1030.3" y="13.5" class="W">Matcher.match(int, int)</text><rect x="1253" width="32" height="18" class="y"/><text x="1256.3" y="13.5" class="D">get...</text><rect x="1286" width="32" height="18" class="b"/><text x="1289.3" y="13.5" class="W">split</text><rect x="1319" width="42" height="18" class="b"/><text x="1322.3" y="13.5" class="W">&lt;init&gt;</text><rect x="1362" width="6" height="18" class="t"/><rect x="1369" width="25" height="18" class="y"/><rect x="1412" width="2" height="18" class="g"/><rect x="1535" width="5" height="18" class="y"/><rect x="1584" width="13" height="18" class="g"/><rect x="1598" width="2" height="18" class="y"/></g>
<g id="r31" transform="translate(0,302)"><rect x="30" width="2" height="18" class="g"/><rect x="258" width="3" height="18" class="g"/><rect x="391" width="2" height="18" class="g"/><rect x="799" width="208" height="18" class="b"/><text x="802.3" y="13.5" class="W">Matcher.namedGroups()</text><rect x="1008" width="18" height="18" class="l"/><rect x="1027" width="205" height="18" class="b"/><text x="1030.3" y="13.5" class="W">match(Matcher, int, CharSequence)</text><rect x="1233" width="9" height="18" class="b"/><rect x="1253" width="2" height="18" class="y"/><rect x="1256" width="2" height="18" class="y"/><rect x="1286" width="19" height="18" class="b"/><rect x="1306" width="12" height="18" class="b"/><rect x="1319" width="42" height="18" class="b"/><text x="1322.3" y="13.5" class="W">reset()</text><rect x="1362" width="6" height="18" class="y"/><rect x="1369" width="25" height="18" class="y"/><rect x="1412" width="2" height="18" class="g"/><rect x="1584" width="9" height="18" class="g"/><rect x="1598" width="2" height="18" class="y"/></g>
<g id="r32" transform="translate(0,283)"><rect x="799" width="208" height="18" class="b"/><text x="802.3" y="13.5" class="W">Pattern.namedGroups()</text><rect x="1008" width="18" height="18" class="l"/><rect x="1027" width="205" height="18" class="b"/><text x="1030.3" y="13.5" class="W">match(Matcher, int, CharSequence)</text><rect x="1253" width="2" height="18" class="y"/><rect x="1256" width="2" height="18" class="l"/><rect x="1286" width="19" height="18" class="b"/><rect x="1306" width="12" height="18" class="b"/><rect x="1362" width="6" height="18" class="y"/><rect x="1369" width="9" height="18" class="l"/><rect x="1412" width="2" height="18" class="a"/><rect x="1598" width="2" height="18" class="y"/></g>
<g id="r33" transform="translate(0,264)"><rect x="799" width="208" height="18" class="l"/><text x="802.3" y="13.5" class="W">Map.copyOf(Map)</text><rect x="1027" width="202" height="18" class="b"/><text x="1030.3" y="13.5" class="W">match</text><rect x="1253" width="2" height="18" class="y"/><rect x="1256" width="2" height="18" class="l"/><rect x="1286" width="19" height="18" class="b"/><rect x="1306" width="12" height="18" class="b"/><rect x="1362" width="6" height="18" class="l"/><rect x="1369" width="9" height="18" class="l"/></g>
<g id="r34" transform="translate(0,245)"><rect x="799" width="168" height="18" class="l"/><text x="802.3" y="13.5" class="W">Map.ofEntries(Map$Entry[])</text><rect x="968" width="39" height="18" class="l"/><text x="971.3" y="13.5" class="W">toAr...</text><rect x="1027" width="106" height="18" class="b"/><text x="1030.3" y="13.5" class="W">match</text><rect x="1134" width="85" height="18" class="b"/><text x="1137.3" y="13.5" class="W">match</text><rect x="1253" width="2" height="18" class="q"/><rect x="1286" width="19" height="18" class="b"/><rect x="1362" width="6" height="18" class="l"/></g>
<g id="r35" transform="translate(0,226)"><rect x="799" width="111" height="18" class="l"/><text x="802.3" y="13.5" class="W">&lt;init&gt;(Object[])</text><rect x="1027" width="19" height="18" class="b"/><text x="1030.3" y="13.5" class="W">is</text><rect x="1047" width="39" height="18" class="b"/><text x="1050.3" y="13.5" class="W">mat...</text><rect x="1087" width="16" height="18" class="b"/><text x="1090.3" y="13.5" class="W">is</text><rect x="1104" width="22" height="18" class="g"/><rect x="1134" width="75" height="18" class="b"/><text x="1137.3" y="13.5" class="W">match</text><rect x="1253" width="2" height="18" class="q"/><rect x="1286" width="2" height="18" class="b"/></g>
<g id="r36" transform="translate(0,207)"><rect x="799" width="111" height="18" class="l"/><text x="802.3" y="13.5" class="W">probe(Object)</text><rect x="1027" width="19" height="18" class="b"/><rect x="1087" width="16" height="18" class="b"/><rect x="1104" width="22" height="18" class="g"/><rect x="1134" width="12" height="18" class="g"/><rect x="1147" width="22" height="18" class="b"/><rect x="1170" width="16" height="18" class="b"/><text x="1173.3" y="13.5" class="W">is</text><rect x="1187" width="22" height="18" class="b"/><text x="1190.3" y="13.5" class="W">is</text><rect x="1253" width="2" height="18" class="q"/></g>
<g id="r37" transform="translate(0,188)"><rect x="799" width="2" height="18" class="g"/><rect x="1087" width="16" height="18" class="b"/><text x="1090.3" y="13.5" class="W">is</text><rect x="1104" width="22" height="18" class="g"/><rect x="1134" width="12" height="18" class="g"/><rect x="1147" width="19" height="18" class="b"/><rect x="1170" width="16" height="18" class="b"/><rect x="1187" width="22" height="18" class="b"/></g>
<g id="r38" transform="translate(0,169)"><rect x="799" width="2" height="18" class="g"/><rect x="1134" width="2" height="18" class="g"/><rect x="1147" width="19" height="18" class="b"/><rect x="1170" width="16" height="18" class="b"/><text x="1173.3" y="13.5" class="W">is</text></g>
<g id="r39" transform="translate(0,150)"><rect x="1147" width="9" height="18" class="b"/><rect x="1157" width="9" height="18" class="b"/></g>
<g id="r40" transform="translate(0,131)"><rect x="1147" width="9" height="18" class="b"/><rect x="1157" width="9" height="18" class="b"/></g>
<g id="r41" transform="translate(0,112)"><rect x="1147" width="9" height="18" class="b"/><rect x="1157" width="9" height="18" class="b"/></g>
<g id="r42" transform="translate(0,93)"><rect x="1147" width="9" height="18" class="b"/><rect x="1157" width="5" height="18" class="b"/></g>
<g id="r43" transform="translate(0,74)"><rect x="1147" width="2" height="18" class="b"/><rect x="1157" width="5" height="18" class="b"/></g>
<g id="r44" transform="translate(0,55)"><rect x="1147" width="2" height="18" class="b"/><rect x="1157" width="2" height="18" class="b"/><rect x="1160" width="2" height="18" class="b"/></g>
<g id="r45" transform="translate(0,36)"><rect x="1147" width="2" height="18" class="b"/><rect x="1160" width="2" height="18" class="b"/></g>
<g id="r46" transform="translate(0,17)"><rect x="1147" width="2" height="18" class="b"/></g>
<polygon id="cursor" points="1740,3 1740,18 1743.500,15 1746,21 1749,20 1746.500,14 1751,14" fill="#000" stroke="#fff" stroke-width="1"/>
<circle cx="1822" cy="877" r="15" fill="#efefef"/>
</svg>
